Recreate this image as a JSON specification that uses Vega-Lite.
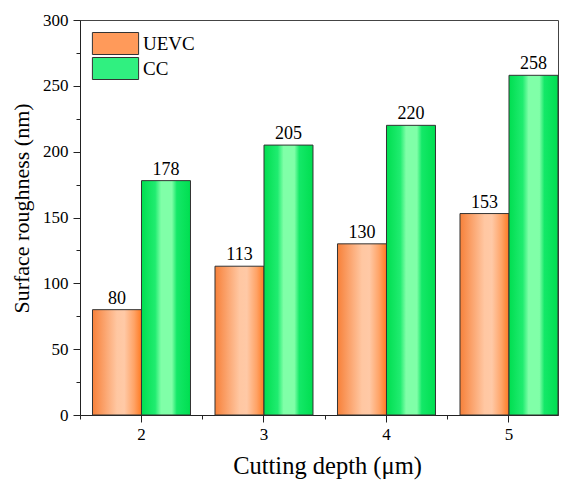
{
  "$schema": "https://vega.github.io/schema/vega-lite/v6.json",
  "width": 478,
  "height": 395,
  "autosize": {"type": "none"},
  "padding": {"left": 80, "top": 20, "right": 4, "bottom": 66},
  "background": "white",
  "config": {
    "view": {"stroke": "#444", "strokeWidth": 1},
    "font": "Liberation Serif",
    "axis": {
      "labelFont": "Liberation Serif",
      "titleFont": "Liberation Serif",
      "labelColor": "black",
      "titleColor": "black",
      "labelFontSize": 17,
      "titleFontSize": 22,
      "titleFontWeight": "normal",
      "domainColor": "#222",
      "tickColor": "#222",
      "grid": false
    }
  },
  "data": {
    "values": [
      {"depth": "2", "method": "UEVC", "value": 80},
      {"depth": "2", "method": "CC", "value": 178},
      {"depth": "3", "method": "UEVC", "value": 113},
      {"depth": "3", "method": "CC", "value": 205},
      {"depth": "4", "method": "UEVC", "value": 130},
      {"depth": "4", "method": "CC", "value": 220},
      {"depth": "5", "method": "UEVC", "value": 153},
      {"depth": "5", "method": "CC", "value": 258}
    ]
  },
  "layer": [
    {
      "mark": {"type": "bar", "stroke": "#333", "strokeWidth": 1},
      "encoding": {
        "x": {
          "field": "depth", "type": "nominal",
          "scale": {"type": "band", "paddingInner": 0.2, "paddingOuter": 0.051, "align": 1},
          "axis": {"title": "Cutting depth (μm)", "titleFontSize": 24.5, "titleX": 247, "labelAngle": 0, "tickSize": 7, "labelPadding": 4, "titlePadding": 12}
        },
        "xOffset": {"field": "method", "type": "nominal", "scale": {"domain": ["UEVC", "CC"], "paddingInner": 0, "paddingOuter": 0}},
        "y": {
          "field": "value", "type": "quantitative",
          "scale": {"domain": [0, 300], "nice": false},
          "axis": {"title": "Surface roughness (nm)", "titleY": 188, "values": [0, 50, 100, 150, 200, 250, 300], "tickSize": 7, "labelPadding": 5, "titlePadding": 9}
        },
        "color": {
          "condition": {
            "test": "datum.method === 'UEVC'",
            "value": {"gradient": "linear", "x1": 0, "y1": 0, "x2": 1, "y2": 0, "stops": [
              {"offset": 0, "color": "#F7813A"},
              {"offset": 0.5, "color": "#FFC7A2"},
              {"offset": 0.65, "color": "#FFC9A6"},
              {"offset": 0.85, "color": "#FFA366"},
              {"offset": 1, "color": "#FF7A22"}
            ]}
          },
          "value": {"gradient": "linear", "x1": 0, "y1": 0, "x2": 1, "y2": 0, "stops": [
            {"offset": 0, "color": "#00DE50"},
            {"offset": 0.28, "color": "#20EC70"},
            {"offset": 0.4, "color": "#80FFA8"},
            {"offset": 0.62, "color": "#80FFA8"},
            {"offset": 0.72, "color": "#14E868"},
            {"offset": 1, "color": "#00DE50"}
          ]}
        }
      }
    },
    {
      "mark": {"type": "bar", "opacity": 0},
      "encoding": {
        "x": {"field": "depth", "type": "nominal", "axis": null},
        "xOffset": {"field": "method", "type": "nominal"},
        "y": {"field": "value", "type": "quantitative", "axis": null},
        "color": {
          "field": "method", "type": "nominal",
          "scale": {"domain": ["UEVC", "CC"], "range": ["#FF9A5A", "#30F080"]},
          "legend": {
            "title": null,
            "orient": "top-left",
            "offset": 12,
            "symbolOffset": 12,
            "symbolType": "M-2.1,-1H2.1V1H-2.1Z",
            "symbolSize": 484,
            "symbolStrokeColor": "#333",
            "symbolStrokeWidth": 1,
            "symbolOpacity": 1,
            "labelFont": "Liberation Serif",
            "labelFontSize": 19,
            "labelColor": "black",
            "labelOffset": 16,
            "rowPadding": -3,
            "encode": {
              "symbols": {
                "update": {
                  "fill": [
                    {"test": "datum.value === 'UEVC'", "value": {"gradient": "linear", "x1": 0, "y1": 0, "x2": 1, "y2": 0, "stops": [
                      {"offset": 0, "color": "#F7813A"},
                      {"offset": 0.5, "color": "#FFC7A2"},
                      {"offset": 0.65, "color": "#FFC9A6"},
                      {"offset": 0.85, "color": "#FFA366"},
                      {"offset": 1, "color": "#FF7A22"}
                    ]}},
                    {"value": {"gradient": "linear", "x1": 0, "y1": 0, "x2": 1, "y2": 0, "stops": [
                      {"offset": 0, "color": "#00DE50"},
                      {"offset": 0.28, "color": "#20EC70"},
                      {"offset": 0.4, "color": "#80FFA8"},
                      {"offset": 0.62, "color": "#80FFA8"},
                      {"offset": 0.72, "color": "#14E868"},
                      {"offset": 1, "color": "#00DE50"}
                    ]}}
                  ],
                  "opacity": {"value": 1},
                  "fillOpacity": {"value": 1},
                  "stroke": {"value": "#333"},
                  "strokeWidth": {"value": 1}
                }
              }
            }
          }
        }
      }
    },
    {
      "mark": {"type": "text", "baseline": "alphabetic", "dy": -6, "fontSize": 18, "font": "Liberation Serif", "color": "black"},
      "encoding": {
        "x": {
          "field": "depth", "type": "nominal",
          "axis": {"orient": "bottom", "title": null, "labels": false, "domain": false, "tickSize": 4, "bandPosition": -0.125}
        },
        "xOffset": {"field": "method", "type": "nominal"},
        "y": {
          "field": "value", "type": "quantitative",
          "axis": {"orient": "left", "title": null, "labels": false, "domain": false, "tickSize": 4, "values": [25, 75, 125, 175, 225, 275]}
        },
        "text": {"field": "value", "type": "quantitative"}
      }
    }
  ],
  "resolve": {"axis": {"x": "independent", "y": "independent"}}
}
